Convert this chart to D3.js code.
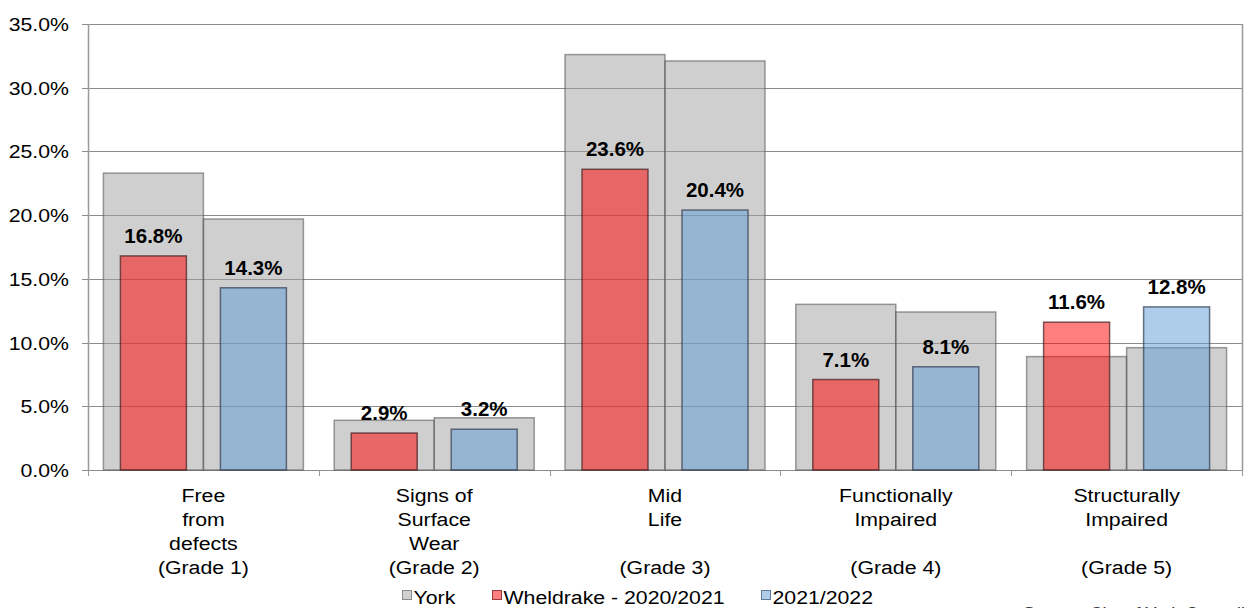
<!DOCTYPE html>
<html>
<head>
<meta charset="utf-8">
<script src="https://cdn.jsdelivr.net/npm/d3@7"></script>
<style>
  html, body { margin: 0; padding: 0; background: #fff; }
  svg { display: block; font-family: Arial, "Liberation Sans", sans-serif; }
</style>
</head>
<body>
<svg id="chart" width="1245" height="608"></svg>
<script>
// ---- data ----
const categories = ["Grade 1", "Grade 2", "Grade 3", "Grade 4", "Grade 5"];
const categoryLabels = [
  ["Free", "from", "defects", "(Grade 1)"],
  ["Signs of", "Surface", "Wear", "(Grade 2)"],
  ["Mid", "Life", "", "(Grade 3)"],
  ["Functionally", "Impaired", "", "(Grade 4)"],
  ["Structurally", "Impaired", "", "(Grade 5)"]
];
const yorkPeriod1 = [23.3, 3.9, 32.6, 13.0, 8.9];   // York, 2020/2021
const yorkPeriod2 = [19.7, 4.1, 32.1, 12.4, 9.6];   // York, 2021/2022
const wheldrake2021 = [16.8, 2.9, 23.6, 7.1, 11.6];
const wheldrake2122 = [14.3, 3.2, 20.4, 8.1, 12.8];
const yTicks = [0, 5, 10, 15, 20, 25, 30, 35];
const legendLabels = ["York", "Wheldrake - 2020/2021", "2021/2022"];
const sourceText = "Source: City of York Council";

// ---- layout ----
const svg = d3.select("#chart");
const pLeft = 88, pRight = 1242, pTop = 24, pBottom = 470;
const SX = 1.12; // horizontal stretch of the regular text
const FS = "19px";

const x = d3.scaleBand().domain(categories).range([pLeft, pRight]).paddingInner(0).paddingOuter(0);
const sub = d3.scaleBand().domain([0, 1]).range([0, x.bandwidth()]).paddingOuter(0.154).paddingInner(0);
const y = d3.scaleLinear().domain([0, 35]).range([pBottom, pTop]);

// gridlines
svg.append("g").selectAll("line").data(yTicks).join("line")
  .attr("x1", pLeft - 6).attr("x2", pRight)
  .attr("y1", d => Math.round(y(d)) + 0.5).attr("y2", d => Math.round(y(d)) + 0.5)
  .attr("stroke", "#8c8c8c").attr("stroke-width", 1);

// plot border right
svg.append("line").attr("x1", pRight + 0.5).attr("x2", pRight + 0.5)
  .attr("y1", pTop).attr("y2", pBottom + 1).attr("stroke", "#999").attr("stroke-width", 1.5);
// left axis
svg.append("line").attr("x1", pLeft + 0.5).attr("x2", pLeft + 0.5)
  .attr("y1", pTop).attr("y2", pBottom + 1).attr("stroke", "#999").attr("stroke-width", 1.5);

// x-axis ticks
const xBounds = categories.map(c => x(c)).concat([pRight]);
svg.append("g").selectAll("line").data(xBounds).join("line")
  .attr("x1", d => Math.round(d) + 0.5).attr("x2", d => Math.round(d) + 0.5)
  .attr("y1", pBottom).attr("y2", pBottom + 6)
  .attr("stroke", "#999").attr("stroke-width", 1);

// y tick labels
svg.append("g").selectAll("text").data(yTicks).join("text")
  .attr("transform", d => `translate(69,${y(d) + 7}) scale(${SX},1)`)
  .attr("text-anchor", "end").attr("font-size", FS).attr("fill", "#000")
  .text(d => d.toFixed(1) + "%");

// York bars (wide, gray)
const yorkSeries = [yorkPeriod1, yorkPeriod2];
yorkSeries.forEach((vals, si) => {
  svg.append("g").selectAll("rect").data(categories).join("rect")
    .attr("x", c => x(c) + sub(si))
    .attr("width", sub.bandwidth())
    .attr("y", (c, i) => y(vals[i]))
    .attr("height", (c, i) => pBottom - y(vals[i]))
    .attr("fill", "rgba(160,160,160,0.5)")
    .attr("stroke", "rgba(80,80,80,0.55)").attr("stroke-width", 1.5);
});

// Wheldrake bars (narrow, overlaid)
const narrowW = 66;
const wSeries = [
  { vals: wheldrake2021, fill: "rgba(255,0,0,0.5)", stroke: "rgba(70,30,30,0.7)" },
  { vals: wheldrake2122, fill: "rgba(91,155,213,0.5)", stroke: "rgba(50,60,80,0.7)" }
];
wSeries.forEach((s, si) => {
  const g = svg.append("g");
  g.selectAll("rect").data(categories).join("rect")
    .attr("x", c => x(c) + sub(si) + sub.bandwidth() / 2 - narrowW / 2)
    .attr("width", narrowW)
    .attr("y", (c, i) => y(s.vals[i]))
    .attr("height", (c, i) => pBottom - y(s.vals[i]))
    .attr("fill", s.fill)
    .attr("stroke", s.stroke).attr("stroke-width", 1.5);
  g.selectAll("text").data(categories).join("text")
    .attr("x", c => x(c) + sub(si) + sub.bandwidth() / 2)
    .attr("y", (c, i) => y(s.vals[i]) - 13)
    .attr("text-anchor", "middle").attr("font-size", "20.5px").attr("font-weight", "bold")
    .attr("fill", "#000")
    .text((c, i) => s.vals[i].toFixed(1) + "%");
});

// category labels
const lineBase = [502, 526, 550, 574];
categories.forEach((c, ci) => {
  const cx = x(c) + x.bandwidth() / 2;
  categoryLabels[ci].forEach((ln, li) => {
    if (!ln) return;
    svg.append("text")
      .attr("transform", `translate(${cx},${lineBase[li]}) scale(${SX},1)`)
      .attr("text-anchor", "middle").attr("font-size", FS).attr("fill", "#000")
      .text(ln);
  });
});

// legend
const legendItems = [
  { label: legendLabels[0], x: 402, fill: "#d0d0d0", stroke: "#8a8a8a" },
  { label: legendLabels[1], x: 492, fill: "#ff8080", stroke: "#9a3a3a" },
  { label: legendLabels[2], x: 761, fill: "#aecde9", stroke: "#5f7a98" }
];
const lg = svg.append("g");
legendItems.forEach(it => {
  lg.append("rect").attr("x", it.x + 0.5).attr("y", 590.5).attr("width", 9).attr("height", 9)
    .attr("fill", it.fill).attr("stroke", it.stroke).attr("stroke-width", 1);
  lg.append("text")
    .attr("transform", `translate(${it.x + 11.5},604) scale(${SX},1)`)
    .attr("font-size", FS).attr("fill", "#000").text(it.label);
});

// source note (cut off at the bottom edge, as in the reference)
svg.append("text")
  .attr("transform", `translate(1023,619) scale(${SX},1)`)
  .attr("font-size", "16px").attr("fill", "#333").text(sourceText);
</script>
</body>
</html>
